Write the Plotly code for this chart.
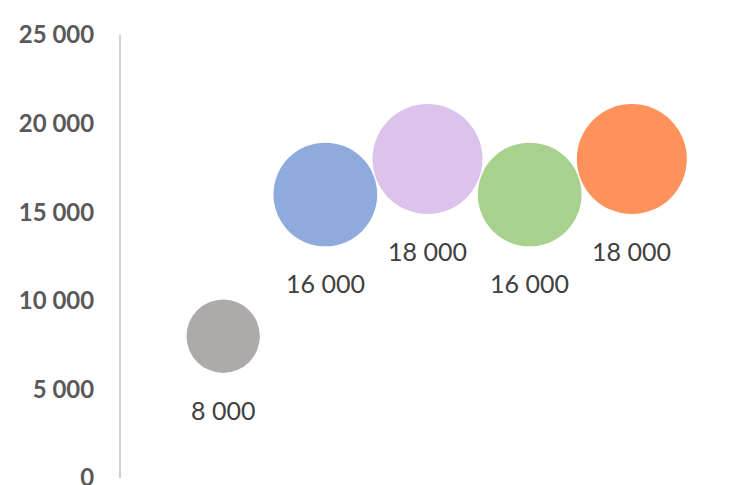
import plotly.graph_objects as go
import math

x_pos = [1, 2, 3, 4, 5]
values = [8000, 16000, 18000, 16000, 18000]
labels = ["8 000", "16 000", "18 000", "16 000", "18 000"]
colors = ["#AEAAAA", "#8FAADC", "#DCC3EC", "#A9D18E", "#FF925A"]
tick_vals = [0, 5000, 10000, 15000, 20000, 25000]
tick_text = ["0", "5 000", "10 000", "15 000", "20 000", "25 000"]

max_diam = 110
sizeref = 2.0 * max(values) / (max_diam ** 2)

fig = go.Figure()
fig.add_trace(go.Scatter(
    x=x_pos, y=values, mode="markers",
    marker=dict(size=values, sizemode="area", sizeref=sizeref,
                color=colors, opacity=1, line=dict(width=0)),
    hoverinfo="skip", showlegend=False,
))

for xv, v, t in zip(x_pos, values, labels):
    r = max_diam / 2 * math.sqrt(v / max(values))
    fig.add_annotation(x=xv, y=v, xref="x", yref="y", text=t, showarrow=False,
                       yshift=-(r + 37), font=dict(family="Lato", size=25, color="#404040"))

fig.update_layout(
    width=756, height=485,
    margin=dict(l=121, r=22, t=35, b=7, autoexpand=False),
    paper_bgcolor="white", plot_bgcolor="white",
    xaxis=dict(range=[0, 6], showgrid=False, zeroline=False, showticklabels=False,
               showline=False, automargin=False),
    yaxis=dict(range=[0, 25000], tickvals=tick_vals, ticktext=tick_text,
               showgrid=False, zeroline=False, showline=True, linecolor="#D0D0D0",
               linewidth=2, ticks="", ticklabelstandoff=20, ticklabeloverflow="allow",
               automargin=False,
               tickfont=dict(family="Lato", size=24, color="#595959", weight="bold")),
)

fig.write_html("out.html")
